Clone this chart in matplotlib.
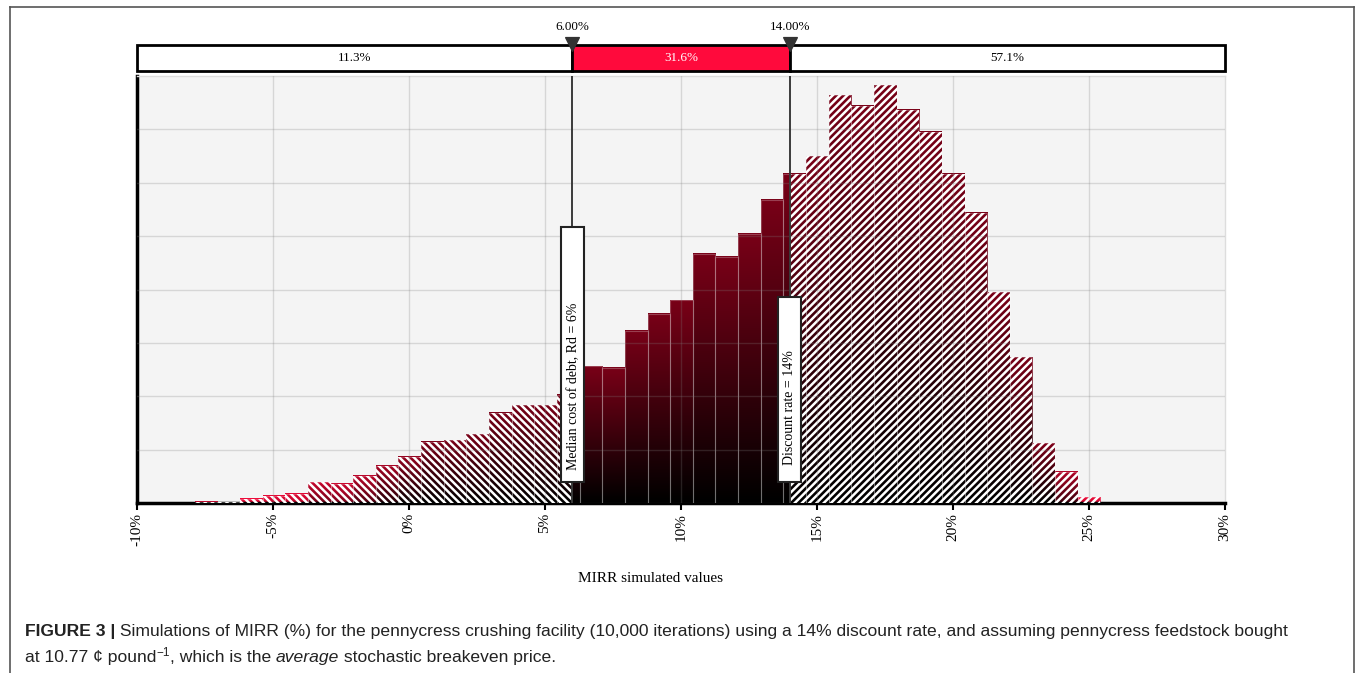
import numpy as np
import matplotlib
matplotlib.use('Agg')
import matplotlib.pyplot as plt
from matplotlib.patches import Rectangle
from matplotlib.lines import Line2D
from matplotlib.colors import to_rgb

# the hatch spacing follows the dpi, so use a dpi that gives ~7 px stripes
DPI = 87.6
PT = 100 / DPI          # sizes below are written as if at 100 dpi
plt.rcParams['hatch.linewidth'] = 1.8 * PT
SERIF = 'Liberation Serif'
SANS = 'Liberation Sans'

W, H = 1357, 673

# ---- data ----
# MIRR histogram: 40 equal bins, height = density (% of iterations per % MIRR)
bin_start = -7.88
bin_width = 0.8325
density = [0.024, 0.012, 0.08, 0.137, 0.17, 0.39, 0.36, 0.51, 0.70, 0.87,
           1.15, 1.18, 1.29, 1.69, 1.83, 1.83, 2.03, 2.56, 2.53, 3.23,
           3.55, 3.80, 4.67, 4.61, 5.04, 5.68, 6.17, 6.50, 7.64, 7.44,
           7.83, 7.37, 6.96, 6.17, 5.44, 3.95, 2.73, 1.12, 0.59, 0.11]
lo_cut, hi_cut = 6.0, 14.0
band_edges = [-10, lo_cut, hi_cut, 30]
band_pct = ['11.3%', '31.6%', '57.1%']
cut_labels = ['6.00%', '14.00%']
x_ticks = [-10, -5, 0, 5, 10, 15, 20, 25, 30]

BRIGHT = np.array(to_rgb('#ff0a3c'))
DARK = np.array(to_rgb('#780017'))

fig = plt.figure(figsize=(W / DPI, H / DPI), dpi=DPI)
ax = fig.add_axes([137 / W, 1 - 503 / H, 1088 / W, 427 / H])
ax.set_facecolor('#f4f4f4')

edges = bin_start + bin_width * np.arange(len(density) + 1)

# gradient bars, hatched outside the 6%-14% window
for x0, h in zip(edges[:-1], density):
    x1 = x0 + bin_width
    f = min(1.0, h / 1.2) ** 0.8
    top = (1 - f) * BRIGHT + f * DARK
    g = min(1.0, h / 0.9)
    bot = top * (1 - g)
    grad = np.linspace(bot, top, 64)[:, None, :]
    ax.imshow(grad, extent=(x0, x1, 0, h), origin='lower', aspect='auto',
              interpolation='bilinear', zorder=2)
    if x0 < lo_cut:
        ax.add_patch(Rectangle((x0, 0), min(x1, lo_cut) - x0, h, facecolor='none',
                               edgecolor='white', lw=0, hatch='\\' * 4, zorder=3))
    if x1 > hi_cut:
        s = max(x0, hi_cut)
        ax.add_patch(Rectangle((s, 0), x1 - s, h, facecolor='none',
                               edgecolor='white', lw=0, hatch='/' * 4, zorder=3))

ax.bar(edges[:-1], density, width=bin_width, align='edge', facecolor='none',
       edgecolor=(1, 1, 1, 0.25), lw=0.8 * PT, zorder=4)

# grid over the bars
for y in range(1, 8):
    ax.axhline(y, color='#808080', alpha=0.25, lw=PT, zorder=5)
for x in x_ticks[1:-1]:
    ax.axvline(x, color='#808080', alpha=0.25, lw=PT, zorder=5)

ax.set_xlim(-10, 30)
ax.set_ylim(0, 8)

# delimiter lines and their label boxes
ax.vlines([lo_cut, hi_cut], 0, 8, color='#3a3a3a', lw=1.4 * PT, zorder=6)
ax.add_patch(Rectangle((lo_cut - 0.42, 0.39), 0.84, 4.79, facecolor='white',
                       edgecolor='#222222', lw=1.5 * PT, zorder=7))
ax.add_patch(Rectangle((hi_cut - 0.42, 0.39), 0.84, 3.475, facecolor='white',
                       edgecolor='#222222', lw=1.5 * PT, zorder=7))
ax.text(lo_cut + 0.05, 0.62, 'Median cost of debt, Rd = 6%', rotation=90, ha='center',
        va='bottom', fontsize=10 * PT, family=SERIF, zorder=8)
ax.text(hi_cut, 0.71, 'Discount rate = 14%', rotation=90, ha='center',
        va='bottom', fontsize=10 * PT, family=SERIF, zorder=8)

ax.set_xticks(x_ticks)
ax.set_xticklabels([f'{v}%' for v in x_ticks], rotation=90, fontsize=11 * PT, family=SERIF)
ax.set_yticks([])
ax.tick_params(axis='x', direction='out', length=5 * PT, width=1.5 * PT, pad=2 * PT,
               color='black')
for side in ['left', 'bottom']:
    ax.spines[side].set_color('black')
    ax.spines[side].set_linewidth(2.5 * PT)
for side in ['top', 'right']:
    ax.spines[side].set_color('#dddddd')
    ax.spines[side].set_linewidth(PT)

# probability band above the plot
band = fig.add_axes([137 / W, 1 - 71 / H, 1088 / W, 26 / H])
band.set_xlim(-10, 30)
band.set_ylim(0, 1)
band.axis('off')
for i, txt in enumerate(band_pct):
    a, b = band_edges[i], band_edges[i + 1]
    fc = BRIGHT if i == 1 else 'white'
    band.add_patch(Rectangle((a, 0), b - a, 1, facecolor=fc, edgecolor='black',
                             lw=2 * PT, clip_on=False))
    band.text((a + b) / 2, 0.5, txt, ha='center', va='center', fontsize=9.5 * PT,
              family=SERIF, color='white' if i == 1 else 'black')
band.plot([lo_cut, hi_cut], [1.02, 1.02], ls='none', marker='v', ms=10 * PT,
          color='#333333', clip_on=False, zorder=5)
for xc, lab in zip([lo_cut, hi_cut], cut_labels):
    band.text(xc, 1.69, lab, ha='center', va='center', fontsize=9.5 * PT, family=SERIF)

fig.text(650 / W, 1 - 579 / H, 'MIRR simulated values', ha='center', va='center',
         fontsize=11 * PT, family=SERIF)

# frame around the figure (open at the bottom)
fx0, fx1, fy = 9.5 / W, 1354 / W, 1 - 6.5 / H
for xs, ys in [([fx0, fx0], [0, fy]), ([fx0, fx1], [fy, fy]), ([fx1, fx1], [fy, 0])]:
    fig.add_artist(Line2D(xs, ys, transform=fig.transFigure, color='#555555', lw=1.2 * PT))

# caption, laid out piece by piece
renderer = fig.canvas.get_renderer()


def put_line(x_px, base_px, pieces):
    x = x_px
    for s, kw in pieces:
        opts = dict(fontsize=12.6 * PT, family=SANS, color='#222222')
        opts.update(kw)
        dy = opts.pop('dy', 0)
        t = fig.text(x / W, 1 - (base_px - dy) / H, s, ha='left', va='baseline', **opts)
        x = t.get_window_extent(renderer).x1


put_line(25, 636, [
    ('FIGURE 3 |', dict(weight='bold')),
    (' Simulations of MIRR (%) for the pennycress crushing facility (10,000 iterations) '
     'using a 14% discount rate, and assuming pennycress feedstock bought', {}),
])
put_line(25, 662, [
    ('at 10.77 \u00a2 pound', {}),
    ('\u22121', dict(fontsize=8.5 * PT, dy=6)),
    (', which is the ', {}),
    ('average', dict(style='italic')),
    (' stochastic breakeven price.', {}),
])

fig.savefig('out.png', dpi=DPI)
